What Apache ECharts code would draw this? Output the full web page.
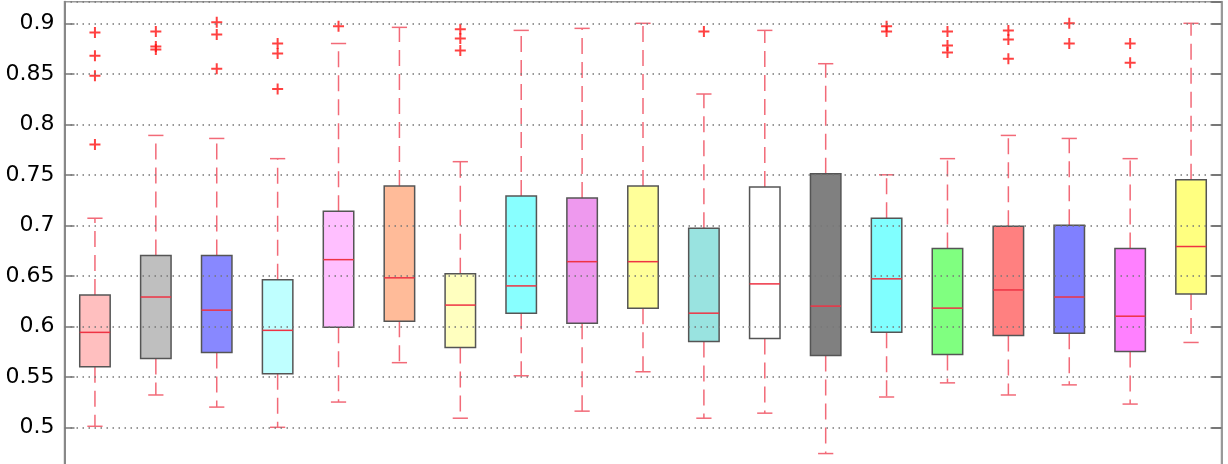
<!DOCTYPE html>
<html>
<head>
<meta charset="utf-8">
<script src="https://cdn.jsdelivr.net/npm/echarts@6/dist/echarts.min.js"></script>
<style>
  html, body { margin: 0; padding: 0; background: #fff; overflow: hidden; }
  #chart { width: 1228px; height: 478px; }
</style>
</head>
<body>
<div id="chart"></div>
<script>
// 数据：19 组箱线图
const categories = ['1', '2', '3', '4', '5', '6', '7', '8', '9', '10', '11', '12', '13', '14', '15', '16', '17', '18', '19']
const lowWhisker = [0.501, 0.532, 0.520, 0.500, 0.525, 0.564, 0.509, 0.551, 0.516, 0.555, 0.509, 0.514, 0.474, 0.530, 0.544, 0.532, 0.542, 0.523, 0.584]
const q1 = [0.560, 0.568, 0.574, 0.553, 0.599, 0.605, 0.579, 0.613, 0.603, 0.618, 0.585, 0.588, 0.571, 0.594, 0.572, 0.591, 0.593, 0.575, 0.632]
const median = [0.594, 0.629, 0.616, 0.596, 0.666, 0.648, 0.621, 0.640, 0.664, 0.664, 0.613, 0.642, 0.620, 0.647, 0.618, 0.636, 0.629, 0.610, 0.679]
const q3 = [0.631, 0.670, 0.670, 0.646, 0.714, 0.739, 0.652, 0.729, 0.727, 0.739, 0.697, 0.738, 0.751, 0.707, 0.677, 0.699, 0.700, 0.677, 0.745]
const highWhisker = [0.707, 0.789, 0.786, 0.766, 0.880, 0.896, 0.763, 0.893, 0.895, 0.900, 0.830, 0.893, 0.860, 0.750, 0.766, 0.789, 0.786, 0.766, 0.900]
const outliers = [
  [0.891, 0.868, 0.848, 0.780],
  [0.892, 0.877, 0.874],
  [0.901, 0.889, 0.855],
  [0.880, 0.870, 0.835],
  [0.897],
  [],
  [0.894, 0.885, 0.873],
  [],
  [],
  [],
  [0.892],
  [],
  [],
  [0.897, 0.892],
  [0.892, 0.878, 0.871],
  [0.893, 0.884, 0.865],
  [0.900, 0.880],
  [0.880, 0.861],
  []
]
const yTicks = { min: 0.45, max: 0.9214, interval: 0.05 }

// 样式
const fillColors = ['#ffbfbf', '#bfbfbf', '#8888ff', '#bfffff', '#ffbfff', '#ffbb99', '#ffffbf', '#88ffff', '#ee99ee', '#ffff99',
  '#99e3e0', '#ffffff', '#808080', '#80ffff', '#80ff80', '#ff8080', '#8080ff', '#ff80ff', '#ffff80']
const whiskerColor = '#f26a78'
const plusSymbol = 'path://M4.5,0h2v4.5h4.5v2h-4.5v4.5h-2v-4.5h-4.5v-2h4.5z'

const boxData = categories.map((c, i) => [i, lowWhisker[i], q1[i], median[i], q3[i], highWhisker[i]])
const outlierData = []
outliers.forEach((list, i) => list.forEach(v => outlierData.push([i, v])))

const renderBox = (params, api) => {
  const x = api.value(0)
  const lo = api.coord([x, api.value(1)])
  const b1 = api.coord([x, api.value(2)])
  const md = api.coord([x, api.value(3)])
  const b3 = api.coord([x, api.value(4)])
  const hi = api.coord([x, api.value(5)])
  const band = api.size([1, 0])[0]
  const half = band * 0.25
  const cap = band * 0.125
  const cx = lo[0]
  const dash = { stroke: whiskerColor, lineWidth: 1.5, lineDash: [16, 8] }
  const solid = { stroke: whiskerColor, lineWidth: 1.5 }
  return {
    type: 'group',
    children: [
      { type: 'line', shape: { x1: cx, y1: b3[1], x2: cx, y2: hi[1] }, style: dash },
      { type: 'line', shape: { x1: cx, y1: b1[1], x2: cx, y2: lo[1] }, style: dash },
      { type: 'line', shape: { x1: cx - cap, y1: hi[1], x2: cx + cap, y2: hi[1] }, style: solid },
      { type: 'line', shape: { x1: cx - cap, y1: lo[1], x2: cx + cap, y2: lo[1] }, style: solid },
      {
        type: 'rect',
        shape: { x: cx - half, y: b3[1], width: half * 2, height: b1[1] - b3[1] },
        style: { fill: fillColors[params.dataIndex], stroke: '#555', lineWidth: 1.5 }
      },
      {
        type: 'line',
        shape: { x1: cx - half, y1: md[1], x2: cx + half, y2: md[1] },
        style: { stroke: '#ee3344', lineWidth: 1.5 }
      }
    ]
  }
}

const chart = echarts.init(document.getElementById('chart'))
chart.setOption({
  animation: false,
  backgroundColor: '#fff',
  grid: {
    left: 64.5,
    right: 6.5,
    top: 1.7,
    bottom: 0.2,
    show: true,
    borderColor: '#999',
    borderWidth: 1.5
  },
  xAxis: {
    type: 'category',
    data: categories,
    boundaryGap: true,
    axisLine: { show: false },
    axisTick: { show: false },
    axisLabel: { show: false },
    splitLine: { show: false }
  },
  yAxis: [{
    type: 'value',
    min: yTicks.min,
    max: yTicks.max,
    interval: yTicks.interval,
    z: 5,
    axisLine: { show: true, lineStyle: { color: '#888', width: 2 } },
    axisTick: { show: true, inside: true, length: 10, lineStyle: { color: '#777', width: 1.5 } },
    axisLabel: {
      showMaxLabel: false,
      showMinLabel: false,
      margin: 10,
      color: '#000',
      fontSize: 22,
      fontFamily: 'DejaVu Sans',
      formatter: v => String(+v.toFixed(2))
    },
    splitLine: { show: true, lineStyle: { color: '#777', width: 1.5, type: [1.5, 4.5] } }
  }, {
    type: 'value',
    position: 'right',
    min: yTicks.min,
    max: yTicks.max,
    interval: yTicks.interval,
    z: 5,
    axisLine: { show: true, lineStyle: { color: '#999', width: 2 } },
    axisTick: { show: true, inside: true, length: 10, lineStyle: { color: '#777', width: 2 } },
    axisLabel: { show: false },
    splitLine: { show: false }
  }],
  series: [{
    type: 'custom',
    z: 1,
    renderItem: renderBox,
    encode: { x: 0, y: [1, 2, 3, 4, 5] },
    data: boxData
  }, {
    type: 'scatter',
    z: 1,
    symbol: plusSymbol,
    symbolSize: 11,
    itemStyle: { color: '#ff1111' },
    data: outlierData
  }]
})
</script>
</body>
</html>
